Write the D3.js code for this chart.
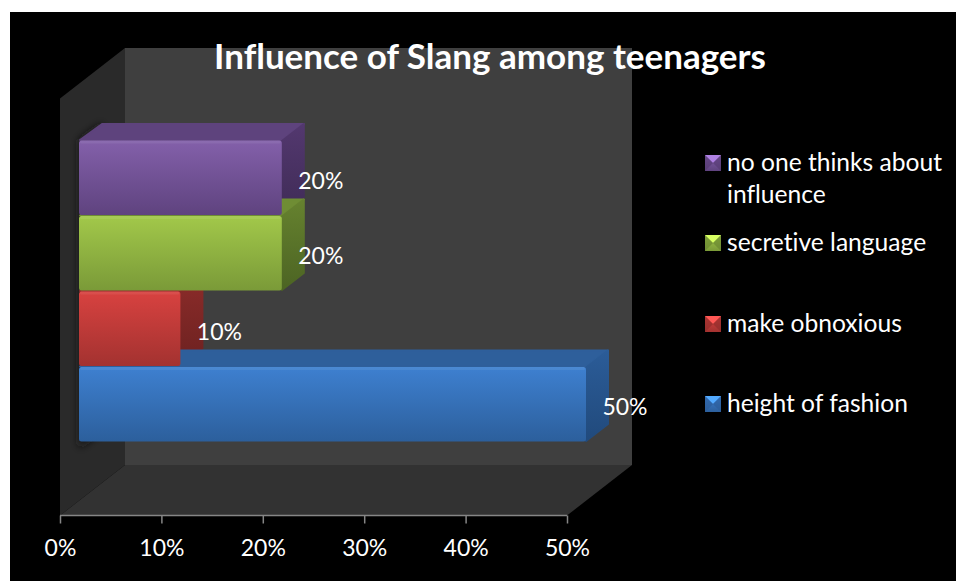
<!DOCTYPE html>
<html><head><meta charset="utf-8">
<script src="https://cdnjs.cloudflare.com/ajax/libs/d3/7.8.5/d3.min.js"></script>
<style>html,body{margin:0;padding:0;background:#fff;overflow:hidden}svg{display:block}text{font-family:Lato,"Open Sans",sans-serif;fill:#fff;font-variant-ligatures:none}</style>
</head><body><svg id="c" width="956" height="581"></svg>
<script>
const chartTitle = "Influence of Slang among teenagers";
const categories = ["no one thinks about influence","secretive language","make obnoxious","height of fashion"];
const legendLines = [["no one thinks about","influence"],["secretive language"],["make obnoxious"],["height of fashion"]];
const values = [20,20,10,50];
const tickValues = [0,10,20,30,40,50];
const faceTop = ["#8360aa","#a2c84a","#d84240","#3e80d0"];
const faceBottom = ["#5f437f","#7a9a38","#a33230","#2c5f9c"];
const sideTop = ["#53386f","#66822f","#8c2c2a","#2b5c98"];
const sideBottom = ["#3f2b56","#4c6423","#6c2120","#214a7c"];
const topFace = ["#5e437d","#6f8d34","#962f2d","#2e5f9b"];
const legendY = [163,243,324,404];

const svg = d3.select("#c");
const x = d3.scaleLinear().domain([0,50]).range([60,567]);
const y = d3.scaleBand().domain(categories).range([140,442]);
const dx = 65, dy = -50.5;          // wall depth
const bx = 23, by = -17, inset = 19; // bar depth and offset
const axisY = 515.5;

svg.append("rect").attr("width",956).attr("height",581).attr("fill","#fff");
svg.append("rect").attr("x",10).attr("y",12).attr("width",946).attr("height",569).attr("fill","#000");

const defs = svg.append("defs");
categories.forEach((c,i)=>{
  [["f",faceTop,faceBottom],["s",sideTop,sideBottom]].forEach(([p,a,b])=>{
    const g = defs.append("linearGradient").attr("id",p+i).attr("x1",0).attr("y1",0).attr("x2",0).attr("y2",1);
    g.append("stop").attr("offset","0%").attr("stop-color",a[i]);
    g.append("stop").attr("offset","100%").attr("stop-color",b[i]);
  });
});
defs.append("filter").attr("id","blur").attr("x","-100%").attr("width","300%").append("feGaussianBlur").attr("stdDeviation",4);

const poly = pts => "M"+pts.map(p=>p.join(",")).join("L")+"Z";
const wallTop = 98.5;
// left wall, back wall, floor
svg.append("path").attr("d",poly([[x(0),wallTop],[x(0)+dx,wallTop+dy],[x(0)+dx,axisY+dy],[x(0),axisY]])).attr("fill","#2a2a2a");
svg.append("path").attr("d",poly([[x(0)+dx,wallTop+dy],[x(50)+dx,wallTop+dy],[x(50)+dx,axisY+dy],[x(0)+dx,axisY+dy]])).attr("fill","#3f3f3f");
svg.append("path").attr("d",poly([[x(0),axisY],[x(0)+dx,axisY+dy],[x(50)+dx,axisY+dy],[x(50),axisY]])).attr("fill","#323232");

// soft bar shadow on the left wall
svg.append("path").attr("d",poly([[x(0)+inset,y.range()[0]],[x(0)+inset+bx,y.range()[0]+by],[x(0)+inset+bx,y.range()[1]+by+6],[x(0)+inset,y.range()[1]+6]]))
  .attr("fill","#141414").attr("filter","url(#blur)");

const L = x(0)+inset;
const g3 = svg.append("g");
categories.forEach((c,i)=>{
  const R = x(values[i])+inset, T = y(c), B = y(c)+y.bandwidth();
  g3.append("path").attr("d",poly([[L+1,T],[L+bx,T+by+1],[R+bx-1,T+by+1],[R,T]]))
    .attr("fill",topFace[i]).attr("stroke",topFace[i]).attr("stroke-width",2).attr("stroke-linejoin","round");
  g3.append("path").attr("d",poly([[R,T+1],[R+bx-1,T+by+1],[R+bx-1,B+by-1],[R,B-1]]))
    .attr("fill",`url(#s${i})`).attr("stroke",`url(#s${i})`).attr("stroke-width",2).attr("stroke-linejoin","round");
});
categories.forEach((c,i)=>{
  const R = x(values[i])+inset, T = y(c);
  g3.append("rect").attr("x",L).attr("y",T+0.5).attr("width",R-L).attr("height",y.bandwidth()-1).attr("rx",2.5)
    .attr("fill",`url(#f${i})`);
  // bevel highlight along the top of the face
  g3.append("rect").attr("x",L+1).attr("y",T+0.5).attr("width",R-L-2).attr("height",3).attr("rx",1.5)
    .attr("fill","#fff").attr("opacity",0.07);
});
// data labels
categories.forEach((c,i)=>{
  svg.append("text").attr("x",x(values[i])+inset+39).attr("y",y(c)+y.bandwidth()/2+11)
    .attr("text-anchor","middle").attr("font-size",23).text(values[i]+"%");
});

// axis
const axis = svg.append("g").attr("transform",`translate(0,${axisY})`)
  .call(d3.axisBottom(x).tickValues(tickValues).tickFormat(d=>d+"%").tickSize(8).tickPadding(16));
axis.selectAll("path,line").attr("stroke","#868686").attr("stroke-width",1.5);
axis.select("path").attr("d",`M${x(0)},0H${x(50)}`);
axis.selectAll("text").attr("font-size",23).attr("font-family",'Lato,"Open Sans",sans-serif').attr("fill","#fff");

// title
svg.append("text").attr("x",490).attr("y",69).attr("text-anchor","middle")
  .attr("font-size",35).attr("font-weight",700).text(chartTitle);

// legend
categories.forEach((c,i)=>{
  const yy = legendY[i], k = 16, xx = 705;
  const lg = svg.append("g");
  lg.append("rect").attr("x",xx).attr("y",yy-8).attr("width",k).attr("height",k).attr("fill",`url(#f${i})`);
  lg.append("path").attr("d",poly([[xx,yy-8],[xx+k,yy-8],[xx+k/2,yy]])).attr("fill",d3.color(faceTop[i]).brighter(0.8));
  lg.append("path").attr("d",poly([[xx,yy-8],[xx+k/2,yy],[xx,yy+8]])).attr("fill",sideTop[i]).attr("opacity",0.6);
  lg.append("path").attr("d",poly([[xx+k,yy-8],[xx+k/2,yy],[xx+k,yy+8]])).attr("fill",sideTop[i]).attr("opacity",0.6);
  legendLines[i].forEach((t,j)=>{
    lg.append("text").attr("x",727).attr("y",yy+8+j*32).attr("font-size",24.6).text(t);
  });
});
</script></body></html>
